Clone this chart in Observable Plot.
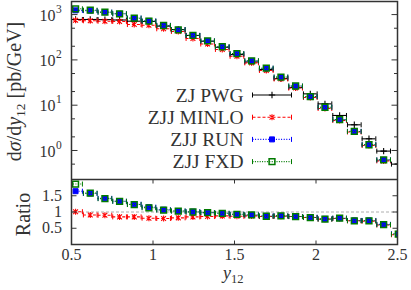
<!DOCTYPE html>
<html><head><meta charset="utf-8">
<script src="https://cdn.jsdelivr.net/npm/d3@7"></script>
<script src="https://cdn.jsdelivr.net/npm/@observablehq/plot@0.6"></script>
<style>
body{margin:0;background:#fff;}
#wrap{position:relative;width:411px;height:290px;overflow:hidden;font-family:"Liberation Serif",serif;}
#wrap svg{position:absolute;left:0;}
#wrap svg text{font-family:"Liberation Serif",serif;}
</style></head><body><div id="wrap"></div>
<script>
// bin centres of y12
const xCenter = [0.525,0.615,0.705,0.795,0.885,0.975,1.065,1.155,1.245,1.335,1.425,1.515,1.605,1.695,1.785,1.875,1.965,2.055,2.145,2.235,2.325,2.415,2.505];
const binHalf = 0.042;
// dsigma/dy12 [pb/GeV]
const pwg   = [780,780,775,760,715,705,555,467,346,258,190,131,90,61.5,38.8,24.5,17.8,10.7,5.93,3.69,1.81,0.97,0.5];
const minlo = [752,730,715,704,603,583,486,424,297,224,170,120,86,58.5,37.9,23.9,14.8,8.45,4.6,2.56,1.29,0.59,0.15];
const run   = [1240,1225,1135,1040,840,725,580,462,348,262,194,137,95,65.5,41.5,26.3,15.4,9.0,4.8,2.65,1.35,0.62,0.16];
const fxd   = [1343,1250,1130,1042,833,715,574,462,346,262,195,138,95.6,65.6,41.8,26.5,15.5,9.0,4.8,2.63,1.34,0.62,0.16];
// ratios to ZJ PWG
const ratioMinlo = [1.01,0.91,0.90,0.85,0.85,0.81,0.80,0.82,0.85,0.86,0.88,0.87,0.88,0.86,0.87,0.86,0.83,0.78,0.80,0.73,0.72,0.60,0.30];
const ratioRun   = [1.64,1.57,1.42,1.33,1.24,1.15,1.07,1.03,1.01,0.98,0.96,0.93,0.91,0.88,0.88,0.86,0.84,0.79,0.81,0.74,0.74,0.62,0.33];
const ratioFxd   = [1.86,1.58,1.41,1.33,1.23,1.13,1.06,1.03,1.00,0.98,0.96,0.93,0.91,0.87,0.88,0.86,0.83,0.78,0.81,0.73,0.73,0.61,0.32];

const seriesNames = ["ZJ PWG","ZJJ MINLO","ZJJ RUN","ZJJ FXD"];
const seriesColors = ["#000000","#ff0000","#0000ff","#007a00"];
const seriesDash = [null,"3,2","1,1.6","1,1.4"];

const yMajorExp = [0,1,2,3];
const yMajorLabelBase = ["10","10","10","10"];
const yMajorLabelExp = ["0","1","2","3"];
const yMinor = [0.5,2,5,20,50,200,500];
const ratioTicks = [0.5,1,1.5];
const ratioTickLabels = ["0.5","1","1.5"];
const xTicks = [0.5,1,1.5,2,2.5];
const xTickLabels = ["0.5","1","1.5","2","2.5"];

const FONT = "Liberation Serif, serif";
function sym(fn){return {draw(c,size){fn(c,Math.sqrt(size/Math.PI));}};}
const symVBar  = sym((c,r)=>{c.moveTo(0,-r);c.lineTo(0,r);});
const symPlus  = sym((c,r)=>{c.moveTo(-r,0);c.lineTo(r,0);c.moveTo(0,-r);c.lineTo(0,r);});
const symCross = sym((c,r)=>{const s=r*0.8;c.moveTo(-s,-s);c.lineTo(s,s);c.moveTo(-s,s);c.lineTo(s,-s);c.moveTo(0,-r);c.lineTo(0,r);});
const symSquare= sym((c,r)=>{c.rect(-r,-r,2*r,2*r);});
const symTickR = sym((c,r)=>{c.moveTo(0,0);c.lineTo(r,0);});
const symTickL = sym((c,r)=>{c.moveTo(0,0);c.lineTo(-r,0);});
const symTickD = sym((c,r)=>{c.moveTo(0,0);c.lineTo(0,r);});
const symTickU = sym((c,r)=>{c.moveTo(0,0);c.lineTo(0,-r);});

const markerSpec = [
  {symbol:symPlus, r:3.2, fill:"none", sw:1.1},
  {symbol:symCross, r:3.0, fill:"none", sw:1.1},
  {symbol:symSquare, r:2.5, fill:"#0000ff", sw:1},
  {symbol:symSquare, r:2.9, fill:"none", sw:1.5}
];

const rows = xCenter.map((x,i)=>({x, lo:x-binHalf, hi:x+binHalf,
  v0:pwg[i], v1:minlo[i], v2:run[i], v3:fxd[i],
  r1:ratioMinlo[i], r2:ratioRun[i], r3:ratioFxd[i]}));

function seriesMarks(key, i){
  const col = seriesColors[i], dash = seriesDash[i], m = markerSpec[i];
  return [
    Plot.ruleY(rows,{x1:"lo",x2:"hi",y:key,stroke:col,strokeWidth:1.1,strokeDasharray:dash,clip:true}),
    Plot.dot(rows,{x:"lo",y:key,symbol:symVBar,r:2.5,stroke:col,fill:"none",strokeWidth:1,clip:true}),
    Plot.dot(rows,{x:"hi",y:key,symbol:symVBar,r:2.5,stroke:col,fill:"none",strokeWidth:1,clip:true}),
    Plot.dot(rows,{x:"x",y:key,symbol:m.symbol,r:m.r,stroke:col,fill:m.fill,strokeWidth:m.sw,clip:true})
  ];
}

const W = 411, ML = 71, MR = 14;
const main = Plot.plot({
  width:W, height:179, marginTop:1, marginBottom:0, marginLeft:ML, marginRight:MR,
  x:{domain:[0.5,2.5], axis:null},
  y:{type:"log", domain:[0.229,1945], axis:null},
  style:{fontFamily:FONT, background:"transparent"},
  marks:[
    ...[0,1,2,3].flatMap(i=>seriesMarks("v"+i,i)),
    Plot.dot(yMajorExp,{y:d=>10**d,frameAnchor:"left",symbol:symTickR,r:6,stroke:"#333",strokeWidth:1}),
    Plot.dot(yMajorExp,{y:d=>10**d,frameAnchor:"right",symbol:symTickL,r:6,stroke:"#333",strokeWidth:1}),
    Plot.dot(yMinor,{y:d=>d,frameAnchor:"left",symbol:symTickR,r:3.5,stroke:"#333",strokeWidth:1}),
    Plot.dot(yMinor,{y:d=>d,frameAnchor:"right",symbol:symTickL,r:3.5,stroke:"#333",strokeWidth:1}),
    Plot.text(yMajorExp,{y:d=>10**d,frameAnchor:"left",dx:-16,dy:1,text:(d,i)=>yMajorLabelBase[i],textAnchor:"end",fontSize:16,fontFamily:FONT,fill:"#333"}),
    Plot.text(yMajorExp,{y:d=>10**d,frameAnchor:"left",dx:-15.5,dy:-5.5,text:(d,i)=>yMajorLabelExp[i],textAnchor:"start",fontSize:11.5,fontFamily:FONT,fill:"#333"}),
    Plot.frame({stroke:"#333",strokeWidth:1.5})
  ]
});
main.style.top = "0px";

const ratio = Plot.plot({
  width:W, height:111, marginTop:0, marginBottom:46, marginLeft:ML, marginRight:MR,
  x:{domain:[0.5,2.5], axis:null},
  y:{domain:[0,2], axis:null},
  style:{fontFamily:FONT, background:"transparent"},
  marks:[
    Plot.ruleY([1],{stroke:"#999",strokeWidth:0.8,strokeDasharray:"3,2"}),
    ...[1,2,3].flatMap(i=>seriesMarks("r"+i,i)),
    Plot.dot(ratioTicks,{y:d=>d,frameAnchor:"left",symbol:symTickR,r:5,stroke:"#333",strokeWidth:1}),
    Plot.dot(ratioTicks,{y:d=>d,frameAnchor:"right",symbol:symTickL,r:5,stroke:"#333",strokeWidth:1}),
    Plot.dot(xTicks,{x:d=>d,frameAnchor:"top",symbol:symTickD,r:4,stroke:"#333",strokeWidth:1}),
    Plot.dot(xTicks,{x:d=>d,frameAnchor:"bottom",symbol:symTickU,r:4,stroke:"#333",strokeWidth:1}),
    Plot.text(ratioTicks,{y:d=>d,frameAnchor:"left",dx:-9.5,text:(d,i)=>ratioTickLabels[i],textAnchor:"end",fontSize:16,fontFamily:FONT,fill:"#333"}),
    Plot.text(xTicks,{x:d=>d,frameAnchor:"bottom",dy:15,text:(d,i)=>xTickLabels[i],fontSize:16,fontFamily:FONT,fill:"#333"}),
    Plot.frame({stroke:"#333",strokeWidth:1.5})
  ]
});
ratio.style.top = "179px";

const wrap = document.getElementById("wrap");
wrap.appendChild(main);
wrap.appendChild(ratio);

// overlay: axis titles and legend
const ov = d3.select(wrap).append("svg").attr("width",W).attr("height",290)
  .style("top","0px").style("pointer-events","none")
  .attr("font-family",FONT).style("white-space","pre");

const yt = ov.append("text").attr("transform","translate(21,91.5) rotate(-90)")
  .attr("text-anchor","middle").attr("font-size",20).attr("fill","#333");
yt.append("tspan").text("d");
yt.append("tspan").attr("font-style","italic").text("σ");
yt.append("tspan").text("/d");
yt.append("tspan").attr("font-style","italic").text("y");
yt.append("tspan").attr("font-size",13.5).attr("dy",4).text("12");
yt.append("tspan").attr("dy",-4).text(" [pb/GeV]");

ov.append("text").attr("transform","translate(30,214.5) rotate(-90)")
  .attr("text-anchor","middle").attr("font-size",20).attr("fill","#333").text("Ratio");

const xt = ov.append("text").attr("x",223).attr("y",279).attr("font-size",18).attr("fill","#333");
xt.append("tspan").attr("font-style","italic").text("y");
xt.append("tspan").attr("font-size",12.5).attr("dy",3.5).text("12");

const legY = [95,117.2,139.4,161.6];
const lx1 = 252.5, lx2 = 291.5, lxm = 272;
seriesNames.forEach((name,i)=>{
  const y = legY[i], col = seriesColors[i], m = markerSpec[i];
  ov.append("text").attr("x",243.5).attr("y",y).attr("dy","0.35em")
    .attr("text-anchor","end").attr("font-size",19.5).attr("fill","#333").text(name);
  ov.append("line").attr("x1",lx1).attr("x2",lx2).attr("y1",y).attr("y2",y)
    .attr("stroke",col).attr("stroke-width",1.1).attr("stroke-dasharray",seriesDash[i]);
  [lx1,lx2].forEach(x=>ov.append("path").attr("transform",`translate(${x},${y})`)
    .attr("d",d3.symbol(symVBar,Math.PI*2.5*2.5)()).attr("stroke",col).attr("stroke-width",1).attr("fill","none"));
  ov.append("path").attr("transform",`translate(${lxm},${y})`)
    .attr("d",d3.symbol(m.symbol,Math.PI*m.r*m.r)()).attr("stroke",col).attr("stroke-width",m.sw).attr("fill",m.fill);
});
</script></body></html>
